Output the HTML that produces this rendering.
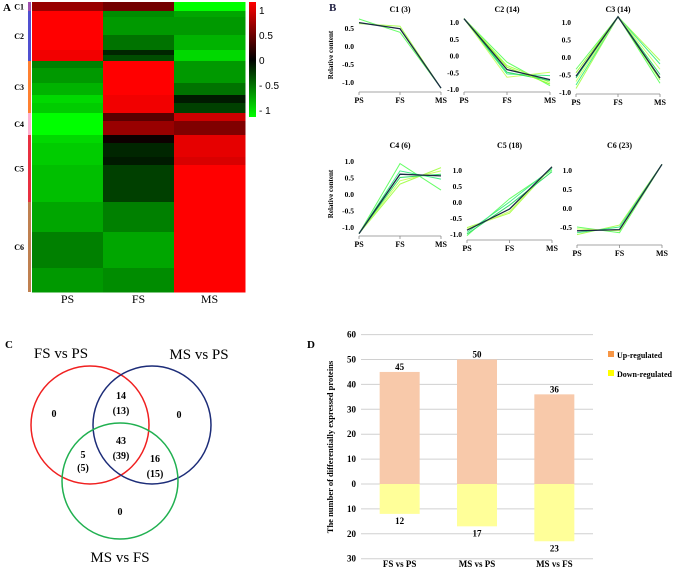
<!DOCTYPE html>
<html><head><meta charset="utf-8">
<style>
html,body{margin:0;padding:0;background:#fff;}
body{width:676px;height:569px;overflow:hidden;position:relative;font-family:"Liberation Serif",serif;}
svg{position:absolute;left:0;top:0;}
</style></head>
<body>
<svg id="fig" width="676" height="569" viewBox="0 0 676 569" xmlns="http://www.w3.org/2000/svg" font-family="Liberation Serif, serif">
  <text x="3" y="11" font-size="11" font-weight="bold">A</text>
  <text x="329" y="11" font-size="11" font-weight="bold" fill="#224">B</text>
  <text x="5" y="348" font-size="11" font-weight="bold">C</text>
  <text x="307" y="348" font-size="11" font-weight="bold">D</text>
  <g id="heat"></g>
  <g id="lines"></g>
  <g id="venn">
    <circle cx="90" cy="425" r="59" fill="none" stroke="#f02020" stroke-width="1.5"/>
    <circle cx="152" cy="425" r="59" fill="none" stroke="#1c2c78" stroke-width="1.5"/>
    <circle cx="120" cy="481" r="58" fill="none" stroke="#20b050" stroke-width="1.5"/>
    <g font-size="15" text-anchor="middle">
      <text x="61" y="358">FS vs PS</text>
      <text x="199" y="359">MS vs PS</text>
      <text x="120" y="562">MS vs FS</text>
    </g>
    <g font-size="10" font-weight="bold" text-anchor="middle">
      <text x="54" y="417">0</text>
      <text x="179" y="418">0</text>
      <text x="120" y="515">0</text>
      <text x="121" y="399">14</text>
      <text x="121" y="414">(13)</text>
      <text x="121" y="444">43</text>
      <text x="121" y="459">(39)</text>
      <text x="83" y="458">5</text>
      <text x="83" y="471">(5)</text>
      <text x="155" y="462">16</text>
      <text x="155" y="477">(15)</text>
    </g>
  </g>
  <g id="bars"></g>
</svg>
<script>
// ---------- Panel A data ----------
const heatCols = ["PS","FS","MS"];
const heatClusters = ["C1","C2","C3","C4","C5","C6"];
const heatRowCluster = [0,1,1,1,1,1,2,2,2,2,2,3,3,4,4,4,4,5,5,5];
const heatRowSize = [9,6,18,15,5,6,7,15,12,8,10,8,14,8,14,8,37,30,36,24];
const heatPS = [0.6,1,1,1,0.95,0.95,-0.5,-0.6,-0.7,-0.85,-0.8,-1,-1,-0.85,-0.8,-0.8,-0.75,-0.65,-0.5,-0.6];
const heatFS = [0.45,-0.55,-0.6,-0.45,-0.15,-0.3,1,1,1,0.95,0.95,0.35,0.6,0.05,-0.15,-0.1,-0.25,-0.5,-0.65,-0.55];
const heatMS = [-1,-0.65,-0.6,-0.7,-0.85,-0.85,-0.6,-0.6,-0.45,-0.1,-0.25,0.8,0.5,0.9,0.9,0.85,1,1,1,1];
const colorbarTicks = [1,0.5,0,-0.5,-1];

// ---------- Panel B data ----------
const lineCats = ["PS","FS","MS"];
const lineTitles = ["C1 (3)","C2 (14)","C3 (14)","C4 (6)","C5 (18)","C6 (23)"];
const c1Center=[0.65,0.48,-1.17], c1Members=[[0.75,0.38,-1.17],[0.62,0.55,-1.17]];
const c2Center=[1.1,-0.42,-0.72], c2Members=[[1.1,-0.2,-0.9],[1.1,-0.3,-0.8],[1.1,-0.55,-0.6],[1.1,-0.65,-0.5],[1.1,-0.5,-0.75],[1.1,-0.35,-0.85]];
const c3Center=[-0.55,1.15,-0.6], c3Members=[[-0.35,1.15,-0.75],[-0.9,1.15,-0.1],[-0.8,1.15,-0.2],[-0.7,1.15,-0.35],[-0.6,1.15,-0.5],[-0.45,1.15,-0.65]];
const c4Center=[-1.2,0.6,0.55], c4Members=[[-1.2,0.92,0.12],[-1.2,0.3,0.8],[-1.2,0.7,0.45],[-1.2,0.4,0.7],[-1.2,0.5,0.6]];
const c5Center=[-0.88,-0.22,1.1], c5Members=[[-1.05,0.1,1.0],[-0.8,-0.35,1.1],[-0.95,0,1.05],[-0.85,-0.3,1.1],[-1.0,-0.1,0.95]];
const c6Center=[-0.6,-0.57,1.15], c6Members=[[-0.5,-0.65,1.15],[-0.7,-0.45,1.15],[-0.65,-0.5,1.15],[-0.55,-0.6,1.15]];
const ticksTop=[0.5,0.0,-0.5,-1.0], ticksFull=[1.0,0.5,0.0,-0.5,-1.0], ticksC6=[1.0,0.5,0.0,-0.5];

// ---------- Panel D data ----------
const barCats = ["FS vs PS","MS vs PS","MS vs FS"];
const upVals = [45,50,36];
const downVals = [12,17,23];
const barTicks = [60,50,40,30,20,10,0,-10,-20,-30];

const NS="http://www.w3.org/2000/svg";
function mk(parent,tag,attrs,txt){const e=document.createElementNS(NS,tag);for(const k in attrs)e.setAttribute(k,attrs[k]);if(txt!==undefined)e.textContent=txt;parent.appendChild(e);return e;}

// ---- Heatmap ----
(function(){
  const g=document.getElementById('heat');
  const x0=32,colW=71,y0=2;
  const total=heatRowSize.reduce((a,b)=>a+b,0);
  const scaleH=290/total;
  const annCols=["#a050b0","#5050d0","#ff8030","#ffb0d0","#e83040","#c08050"];
  const col=v=>v>=0?`rgb(${Math.round(255*v)},0,0)`:`rgb(0,${Math.round(255*-v)},0)`;
  const vals=[heatPS,heatFS,heatMS];
  let y=y0; const cStart={},cEnd={};
  heatRowSize.forEach((s,i)=>{
    const h=s*scaleH;
    for(let c=0;c<3;c++){
      const r=mk(g,'rect',{x:x0+c*colW,y:y,width:colW+0.5,height:h+0.5,fill:col(vals[c][i])});
      
      
    }
    const cl=heatRowCluster[i];
    if(cStart[cl]===undefined)cStart[cl]=y; cEnd[cl]=y+h;
    y+=h;
  });
  heatClusters.forEach((n,i)=>{
    const a=mk(g,'rect',{x:28,y:cStart[i],width:3,height:cEnd[i]-cStart[i],fill:annCols[i]});
    
    
    const t=mk(g,'text',{x:24,y:(cStart[i]+cEnd[i])/2+3,'font-size':8,'font-weight':'bold','text-anchor':'end'},n);
    
    
  });
  heatCols.forEach((n,c)=>{
    const t=mk(g,'text',{x:x0+c*colW+colW/2,y:303,'font-size':12,'text-anchor':'middle'},n);
    
    
  });
  // colorbar
  const defs=mk(g,'defs',{});
  const lg=mk(defs,'linearGradient',{id:'cb',x1:0,y1:0,x2:0,y2:1});
  mk(lg,'stop',{offset:'0',  'stop-color':'#ff0000'});
  mk(lg,'stop',{offset:'0.5','stop-color':'#000000'});
  mk(lg,'stop',{offset:'1',  'stop-color':'#00ff00'});
  const cb=mk(g,'rect',{x:249,y:2,width:7,height:115,fill:'url(#cb)'});
  
  
  const cy=v=>60-v*50;
  colorbarTicks.forEach(v=>{
    const t=mk(g,'text',{x:259,y:cy(v)+4,'font-size':10,'font-family':'Liberation Sans, sans-serif'},v===0?'0':(v<0?'- '+Math.abs(v):String(v)));
    
    
  });
})();

// ---- Line charts ----
(function(){
  const g=document.getElementById('lines');
  const layout=[
    {x0:359,x1:441,vRef:0.5,yRef:28,ppu:36,axisY:92,titleY:12,ticks:ticksTop,c:c1Center,m:c1Members,ylab:true},
    {x0:464,x1:550,vRef:1.0,yRef:22,ppu:33.5,axisY:92,titleY:12,ticks:ticksFull,c:c2Center,m:c2Members},
    {x0:576,x1:660,vRef:1.0,yRef:22,ppu:35,axisY:94,titleY:12,ticks:ticksFull,c:c3Center,m:c3Members},
    {x0:359,x1:441,vRef:1.0,yRef:161,ppu:33,axisY:236,titleY:148,ticks:ticksFull,c:c4Center,m:c4Members,ylab:true},
    {x0:467,x1:552,vRef:1.0,yRef:170,ppu:32,axisY:240,titleY:148,ticks:ticksFull,c:c5Center,m:c5Members},
    {x0:577,x1:662,vRef:1.0,yRef:170,ppu:38,axisY:245,titleY:148,ticks:ticksC6,c:c6Center,m:c6Members}
  ];
  const memCols=["#66ff66","#aaff55","#44ee88","#ccff66","#33dd66","#99ff33"];
  layout.forEach((L,i)=>{
    const sx=k=>L.x0+k*(L.x1-L.x0)/(lineCats.length-1);
    const sy=v=>L.yRef-(v-L.vRef)*L.ppu;
    const t=mk(g,'text',{x:(L.x0+L.x1)/2,y:L.titleY,'font-size':8,'font-weight':'bold','text-anchor':'middle'},lineTitles[i]);
    
    
    const ax=mk(g,'line',{x1:L.x0,y1:L.axisY,x2:L.x1,y2:L.axisY,stroke:'#888','stroke-width':0.8});
    
    
    lineCats.forEach((c,k)=>{
      mk(g,'line',{x1:sx(k),y1:L.axisY,x2:sx(k),y2:L.axisY+3,stroke:'#888','stroke-width':0.8});
      const xl=mk(g,'text',{x:sx(k),y:L.axisY+11,'font-size':8,'font-weight':'bold','text-anchor':'middle'},c);
      
      
    });
    L.ticks.forEach(v=>{
      const yl=mk(g,'text',{x:L.x0-5,y:sy(v)+3,'font-size':7.5,'font-weight':'bold','text-anchor':'end'},v.toFixed(1));
      
      
    });
    if(L.ylab){
      const ym=(sy(L.ticks[0])+sy(L.ticks[L.ticks.length-1]))/2;
      const yt=mk(g,'text',{x:0,y:0,'font-size':7,'font-weight':'bold','text-anchor':'middle',transform:`translate(333,${ym}) rotate(-90)`},'Relative content');
      
      
    }
    L.m.forEach((arr,j)=>{
      const p=mk(g,'polyline',{points:arr.map((v,k)=>sx(k)+','+sy(v)).join(' '),fill:'none',stroke:memCols[j%memCols.length],'stroke-width':1});
      
      
    });
    const cp=mk(g,'polyline',{points:L.c.map((v,k)=>sx(k)+','+sy(v)).join(' '),fill:'none',stroke:'#1a2a44','stroke-width':1.3});
    
    
  });
})();

// ---- Bar chart ----
(function(){
  const g=document.getElementById('bars');
  const x0=361,x1=593,y0=484,ppu=2.49,bw=40;
  const sy=v=>y0-v*ppu;
  const band=(x1-x0)/barCats.length;
  barTicks.forEach(v=>{
    const gl=mk(g,'line',{x1:x0,y1:sy(v),x2:x1,y2:sy(v),stroke:'#d0d0d0','stroke-width':1});
    
    
    const tl=mk(g,'text',{x:356,y:sy(v)+3,'font-size':9,'font-weight':'bold','text-anchor':'end'},String(Math.abs(v)));
    
    
  });
  barCats.forEach((c,i)=>{
    const cx=x0+band*(i+0.5);
    const u=mk(g,'rect',{x:cx-bw/2,y:sy(upVals[i]),width:bw,height:upVals[i]*ppu,fill:'#f8c9aa'});
    
    
    const d=mk(g,'rect',{x:cx-bw/2,y:y0,width:bw,height:downVals[i]*ppu,fill:'#ffff99'});
    
    
    const ut=mk(g,'text',{x:cx,y:sy(upVals[i])-2,'font-size':9,'font-weight':'bold','text-anchor':'middle'},String(upVals[i]));
    
    
    const dt=mk(g,'text',{x:cx,y:y0+downVals[i]*ppu+10,'font-size':9,'font-weight':'bold','text-anchor':'middle'},String(downVals[i]));
    
    
    const xl=mk(g,'text',{x:cx,y:567,'font-size':9,'font-weight':'bold','text-anchor':'middle'},c);
    
    
  });
  const yt=mk(g,'text',{x:0,y:0,'font-size':8.5,'font-weight':'bold','text-anchor':'middle',transform:'translate(333,447) rotate(-90)'},'The number of differentially expressed proteins');
  
  
  const l1=mk(g,'rect',{x:608,y:351,width:6,height:6,fill:'#f79646'});
  
  
  const l1t=mk(g,'text',{x:617,y:358,'font-size':8,'font-weight':'bold'},'Up-regulated');
  
  
  const l2=mk(g,'rect',{x:608,y:370,width:6,height:6,fill:'#ffff00'});
  
  
  const l2t=mk(g,'text',{x:617,y:377,'font-size':8,'font-weight':'bold'},'Down-regulated');
  
  
})();
</script>
</body></html>
